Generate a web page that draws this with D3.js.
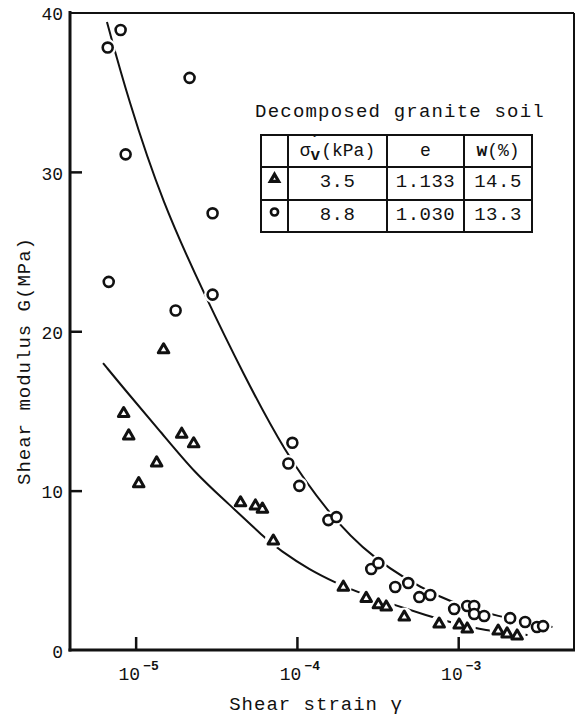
<!DOCTYPE html>
<html>
<head>
<meta charset="utf-8">
<script src="https://cdn.jsdelivr.net/npm/d3@7"></script>
<style>
body{margin:0;background:#fff}
text{font-family:"Liberation Mono","Courier New",monospace;fill:#111}
</style>
</head>
<body>
<svg></svg>
<script>
const width=580, height=715
const plot={left:70,right:574,top:12.5,bottom:650}

// sigma'v = 8.8 kPa  (circles)
const circleStrain=[6.71e-6,8.07e-6,8.67e-6,2.16e-5,3.0e-5,6.81e-6,1.77e-5,3.0e-5,9.37e-5,8.85e-5,1.035e-4,1.567e-4,1.758e-4,2.89e-4,3.2e-4,4.07e-4,4.9e-4,5.74e-4,6.71e-4,9.44e-4,1.138e-3,1.256e-3,1.256e-3,1.449e-3,2.1e-3,2.6e-3,3.08e-3,3.36e-3]
const circleG=[37.8,38.9,31.1,35.9,27.4,23.1,21.3,22.3,13.0,11.7,10.3,8.15,8.34,5.08,5.45,3.95,4.2,3.32,3.45,2.57,2.76,2.76,2.26,2.13,2.0,1.76,1.44,1.5]

// sigma'v = 3.5 kPa  (triangles)
const triStrain=[1.49e-5,8.43e-6,9.06e-6,1.93e-5,2.29e-5,1.35e-5,1.045e-5,4.47e-5,5.53e-5,6.11e-5,7.14e-5,1.94e-4,2.69e-4,3.2e-4,3.58e-4,4.63e-4,7.62e-4,1.014e-3,1.138e-3,1.77e-3,2.01e-3,2.32e-3]
const triG=[18.9,14.9,13.5,13.6,13.0,11.8,10.5,9.3,9.1,8.9,6.9,4.0,3.3,2.9,2.76,2.13,1.69,1.63,1.38,1.25,1.07,0.94]

// hand drawn curves
const circleFitStrain=[6.64e-6,8.96e-6,1.456e-5,2.76e-5,4.61e-5,8.4e-5,1.55e-4,2.82e-4,7.74e-4,1.8e-3,3.84e-3]
const circleFitG=[39.4,34.6,28.1,22.0,17.4,12.4,8.66,5.84,3.13,2.07,1.44]
const triFitStrain=[6.28e-6,8.96e-6,1.456e-5,2.33e-5,3.73e-5,6.32e-5,7.82e-5,1.2e-4,1.76e-4,2.34e-4,6.64e-4,1.36e-3,2.69e-3]
const triFitG=[18.0,16.1,13.6,11.1,9.22,7.03,6.27,5.02,4.2,3.64,2.07,1.25,0.94]

const yTicks=[0,10,20,30,40]
const xTicks=[1e-5,1e-4,1e-3]
const xTickExp=["\u22125","\u22124","\u22123"]

const legendTitle="Decomposed granite soil"
const tableHead=["(kPa)","e","w(%)"]
const tableRows=[["3.5","1.133","14.5"],["8.8","1.030","13.3"]]
const tableSymbols=["triangle","circle"]

const svg=d3.select('svg').attr('width',width).attr('height',height)

const x=d3.scaleLog().domain([Math.pow(10,-5.407),Math.pow(10,-2.282)]).range([plot.left,plot.right])
const y=d3.scaleLinear().domain([0,40]).range([plot.bottom,plot.top])

const triSym=d3.symbol().type(d3.symbolTriangle).size(48)
const cirSym=d3.symbol().type(d3.symbolCircle).size(78)

// frame
svg.append('line').attr('x1',plot.left).attr('x2',plot.right).attr('y1',13).attr('y2',13).attr('stroke','#111').attr('stroke-width',2)
svg.append('line').attr('x1',plot.right).attr('x2',plot.right).attr('y1',13).attr('y2',plot.bottom).attr('stroke','#111').attr('stroke-width',2)

// y axis, ticks pointing in
const yAxis=svg.append('g').attr('transform',`translate(${plot.left},0)`)
  .call(d3.axisLeft(y).tickValues(yTicks).tickSizeInner(-12).tickSizeOuter(0).tickPadding(7))
yAxis.select('.domain').remove()
yAxis.selectAll('.tick line').attr('stroke','#111').attr('stroke-width',2.5)
  .filter(d=>d===0||d===40).remove()
yAxis.selectAll('.tick text').attr('font-size',18).attr('dy','0.4em').attr('fill','#111')
  .style('font-family','"Liberation Mono",monospace')
svg.append('line').attr('x1',plot.left).attr('x2',plot.left).attr('y1',11).attr('y2',plot.bottom+1.5).attr('stroke','#111').attr('stroke-width',3)

// x axis
const xAxis=svg.append('g').attr('transform',`translate(0,${plot.bottom})`)
  .call(d3.axisBottom(x).tickValues(xTicks).tickSizeInner(-13).tickSizeOuter(0).tickFormat(''))
xAxis.select('.domain').remove()
xAxis.selectAll('.tick line').attr('stroke','#111').attr('stroke-width',2.5)
svg.append('line').attr('x1',plot.left-1.5).attr('x2',plot.right+1).attr('y1',plot.bottom).attr('y2',plot.bottom).attr('stroke','#111').attr('stroke-width',3)

xTicks.forEach((t,i)=>{
  const lab=svg.append('text').attr('x',x(t)+3).attr('y',680).attr('text-anchor','middle').attr('font-size',18)
  lab.append('tspan').text('10')
  lab.append('tspan').attr('dy',-10).attr('dx',3).attr('font-size',13).attr('font-weight','bold').text(xTickExp[i])
})

svg.append('text').attr('x',316).attr('y',710).attr('text-anchor','middle').attr('font-size',19).attr('letter-spacing',1)
  .text('Shear strain \u03b3')
svg.append('text').attr('transform','translate(30,361) rotate(-90)').attr('text-anchor','middle').attr('font-size',19).attr('letter-spacing',1)
  .text('Shear modulus G(MPa)')

// fitted curves
const line=d3.line().x(d=>x(d[0])).y(d=>y(d[1])).curve(d3.curveBasis)
svg.append('path').datum(d3.zip(circleFitStrain,circleFitG)).attr('d',line)
  .attr('fill','none').attr('stroke','#111').attr('stroke-width',2)
svg.append('path').datum(d3.zip(triFitStrain,triFitG)).attr('d',line)
  .attr('fill','none').attr('stroke','#111').attr('stroke-width',2)

// points: white halo first so the curves break at the markers
const circles=d3.zip(circleStrain,circleG)
const tris=d3.zip(triStrain,triG)
svg.append('g').attr('fill','#fff').selectAll('circle').data(circles.concat(tris)).join('circle')
  .attr('cx',d=>x(d[0])).attr('cy',d=>y(d[1])).attr('r',8.5)
svg.append('g').selectAll('path').data(circles).join('path')
  .attr('d',cirSym).attr('transform',d=>`translate(${x(d[0])},${y(d[1])})`)
  .attr('fill','#fff').attr('stroke','#111').attr('stroke-width',2.6)
svg.append('g').selectAll('path').data(tris).join('path')
  .attr('d',triSym).attr('transform',d=>`translate(${x(d[0])},${y(d[1])+1})`)
  .attr('fill','#fff').attr('stroke','#111').attr('stroke-width',3).attr('stroke-linejoin','round')

// legend box
svg.append('text').attr('x',400).attr('y',117).attr('text-anchor','middle').attr('font-size',19).attr('letter-spacing',1.2)
  .text(legendTitle)

const cols=[261,288,387,464,532]
const rows=[135,167,200,232]
const tbl=svg.append('g').attr('stroke','#111').attr('stroke-width',2)
cols.forEach(c=>tbl.append('line').attr('x1',c).attr('x2',c).attr('y1',rows[0]).attr('y2',rows[3]))
rows.forEach(r=>tbl.append('line').attr('x1',cols[0]-1).attr('x2',cols[4]+1).attr('y1',r).attr('y2',r))

// header: sigma'_v with the prime sitting over the v
const sig=svg.append('text').attr('x',(cols[1]+cols[2])/2).attr('y',rows[0]+21).attr('text-anchor','middle').attr('font-size',18)
sig.append('tspan').text('\u03c3')
sig.append('tspan').attr('dy',4).attr('font-weight','bold').attr('font-size',16).text('v')
sig.append('tspan').attr('dx',-9.6).attr('dy',-13).attr('font-weight','bold').attr('font-size',16).text('\u00b4')
sig.append('tspan').attr('dy',9).attr('dx',1).text(tableHead[0])
svg.append('text').attr('x',(cols[2]+cols[3])/2).attr('y',rows[0]+21).attr('text-anchor','middle').attr('font-size',18).text(tableHead[1])
const wh=svg.append('text').attr('x',(cols[3]+cols[4])/2).attr('y',rows[0]+21).attr('text-anchor','middle').attr('font-size',18)
wh.append('tspan').attr('font-weight','bold').text(tableHead[2].slice(0,1))
wh.append('tspan').text(tableHead[2].slice(1))

tableRows.forEach((r,i)=>{
  r.forEach((v,j)=>{
    svg.append('text').attr('x',(cols[j+1]+cols[j+2])/2).attr('y',rows[i+1]+20).attr('text-anchor','middle').attr('font-size',19).attr('letter-spacing',0.5).text(v)
  })
  const cx=(cols[0]+cols[1])/2, cy=rows[i+1]+12
  svg.append('path').attr('d',tableSymbols[i]==='triangle'?d3.symbol().type(d3.symbolTriangle).size(30)():d3.symbol().type(d3.symbolCircle).size(40)())
    .attr('transform',`translate(${cx},${cy})`).attr('fill','#fff').attr('stroke','#111').attr('stroke-width',tableSymbols[i]==='triangle'?3.2:2.6)
})
</script>
</body>
</html>
